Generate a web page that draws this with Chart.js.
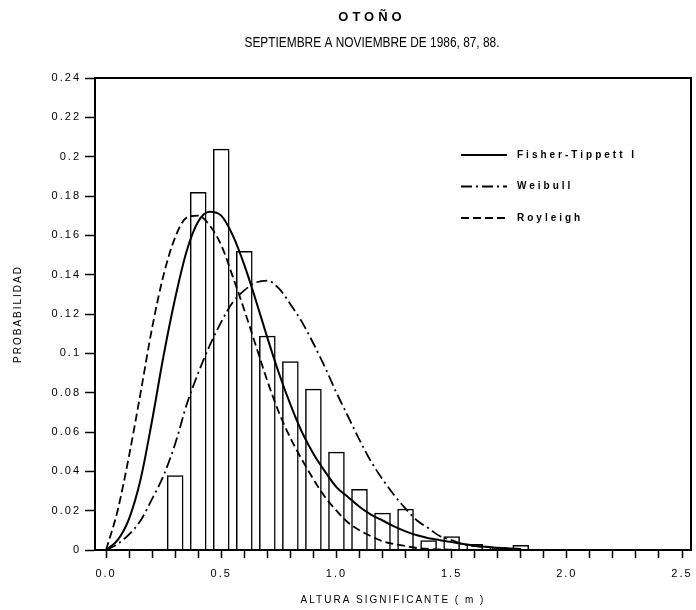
<!DOCTYPE html>
<html lang="es">
  <head>
    <meta charset="UTF-8" />
    <title>Otoño - Altura significante</title>
    <script src="https://cdn.jsdelivr.net/npm/chart.js@4.4.0/dist/chart.umd.min.js"></script>
    <style>
      html, body { margin: 0; padding: 0; background: #fff; }
      #wrap { width: 696px; height: 610px; }
    </style>
  </head>
  <body>
    <div id="wrap"><canvas id="otono" width="696" height="610"></canvas></div>

    <script>
      // Histograma observado: centro de clase (m) y probabilidad
      const clases = [0.3, 0.4, 0.5, 0.6, 0.7, 0.8, 0.9, 1.0, 1.1, 1.2, 1.3, 1.4, 1.5, 1.6, 1.7, 1.8]
      const probObservada = [0.038, 0.182, 0.204, 0.152, 0.109, 0.096, 0.082, 0.050, 0.031, 0.019, 0.021, 0.005, 0.007, 0.003, 0.0015, 0.0025]

      // Curvas ajustadas
      const xCurva = [0, 0.05, 0.1, 0.15, 0.2, 0.25, 0.3, 0.35, 0.4, 0.45, 0.5, 0.55, 0.6, 0.65, 0.7, 0.75, 0.8, 0.85, 0.9, 0.95,
        1.0, 1.05, 1.1, 1.15, 1.2, 1.25, 1.3, 1.35, 1.4, 1.45, 1.5, 1.55, 1.6, 1.65, 1.7, 1.75, 1.8]
      const fisherTippett = [0, 0.005, 0.016, 0.036, 0.066, 0.099, 0.128, 0.152, 0.167, 0.172, 0.170, 0.160, 0.145, 0.127, 0.108, 0.090, 0.074, 0.060, 0.049, 0.040,
        0.032, 0.027, 0.022, 0.018, 0.015, 0.012, 0.0095, 0.0075, 0.006, 0.005, 0.004, 0.003, 0.0022, 0.0016, 0.0012, 0.0008, 0.0005]
      const weibull = [0, 0.003, 0.008, 0.015, 0.026, 0.038, 0.054, 0.074, 0.090, 0.104, 0.116, 0.126, 0.132, 0.136, 0.137, 0.133, 0.125, 0.116, 0.105, 0.093,
        0.080, 0.068, 0.056, 0.045, 0.036, 0.028, 0.021, 0.015, 0.011, 0.007, 0.005, 0.003, 0.002, 0.0015, 0.001, 0.0007, 0.0005]
      const rayleigh = [0, 0.020, 0.048, 0.080, 0.113, 0.140, 0.159, 0.169, 0.170, 0.165, 0.155, 0.139, 0.122, 0.104, 0.086, 0.070, 0.057, 0.046, 0.036, 0.027,
        0.020, 0.014, 0.010, 0.007, 0.0045, 0.003, 0.002, 0.001, 0.0005, 0.0003, 0.0002, null, null, null, null, null, null]

      const xEtiquetas = ['0.0', '0.5', '1.0', '1.5', '2.0', '2.5']
      const etiquetasLeyenda = ['Fisher-Tippett I', 'Weibull', 'Royleigh']

      const FUENTE = '"Liberation Sans", Arial, sans-serif'

      function puntos(ys) {
        return xCurva.map((x, i) => ({ x: x, y: ys[i] }))
      }

      // marco superior/derecho, títulos y leyenda
      const decoracion = {
        id: 'decoracion',
        afterInit(chart) { chart.ctx.letterSpacing = '2px' },
        beforeUpdate(chart) { chart.ctx.letterSpacing = '2px' },
        afterDraw(chart) {
          const ctx = chart.ctx
          const a = chart.chartArea
          ctx.save()
          ctx.strokeStyle = '#000'
          ctx.lineWidth = 2
          ctx.setLineDash([])
          ctx.beginPath()
          ctx.moveTo(a.left, a.top)
          ctx.lineTo(a.right, a.top)
          ctx.lineTo(a.right, a.bottom)
          ctx.stroke()

          ctx.fillStyle = '#000'
          ctx.textAlign = 'center'
          ctx.textBaseline = 'middle'
          ctx.letterSpacing = '4px'
          ctx.font = 'bold 13px ' + FUENTE
          ctx.fillText('OTOÑO', 372, 17)

          // subtítulo en letra estrecha
          ctx.letterSpacing = '0px'
          const t = 'SEPTIEMBRE A NOVIEMBRE DE 1986, 87, 88.'
          ctx.font = '14px ' + FUENTE
          const w = ctx.measureText(t).width
          ctx.save()
          ctx.translate(372, 43)
          ctx.scale(255 / w, 1)
          ctx.fillText(t, 0, 0)
          ctx.restore()

          // leyenda
          ctx.textAlign = 'left'
          ctx.letterSpacing = '3px'
          ctx.font = 'bold 10px ' + FUENTE
          const lineas = chart.data.datasets.filter(d => d.type === 'line')
          lineas.forEach((d, i) => {
            const y = 155 + i * 31.5
            ctx.lineWidth = 2
            ctx.setLineDash(d.borderDash || [])
            ctx.beginPath()
            ctx.moveTo(461, y)
            ctx.lineTo(507, y)
            ctx.stroke()
            ctx.fillText(etiquetasLeyenda[i], 517, y)
          })
          ctx.restore()
        }
      }

      new Chart(document.getElementById('otono'), {
        type: 'bar',
        data: {
          datasets: [
            {
              type: 'line',
              label: etiquetasLeyenda[0],
              data: puntos(fisherTippett),
              borderColor: '#000',
              borderWidth: 2,
              pointRadius: 0,
              cubicInterpolationMode: 'monotone'
            },
            {
              type: 'line',
              label: etiquetasLeyenda[1],
              data: puntos(weibull),
              borderColor: '#000',
              borderWidth: 1.8,
              borderDash: [11, 4, 2, 4],
              pointRadius: 0,
              cubicInterpolationMode: 'monotone'
            },
            {
              type: 'line',
              label: etiquetasLeyenda[2],
              data: puntos(rayleigh),
              borderColor: '#000',
              borderWidth: 1.8,
              borderDash: [8, 4],
              pointRadius: 0,
              spanGaps: false,
              cubicInterpolationMode: 'monotone'
            },
            {
              type: 'bar',
              label: 'Observado',
              data: clases.map((x, i) => ({ x: x, y: probObservada[i] })),
              backgroundColor: 'rgba(0,0,0,0)',
              borderColor: '#000',
              borderWidth: 1.5,
              categoryPercentage: 1,
              barPercentage: 0.72
            }
          ]
        },
        options: {
          responsive: false,
          animation: false,
          devicePixelRatio: 1,
          layout: { padding: { top: 78, right: 5, left: 0, bottom: 0 } },
          plugins: {
            legend: { display: false },
            tooltip: { enabled: false }
          },
          scales: {
            x: {
              type: 'linear',
              offset: false,
              min: -0.048,
              max: 2.539,
              afterFit(s) {
                s.height = 60
                s.paddingLeft = 0
                s.paddingRight = 0
              },
              grid: { offset: false, drawOnChartArea: false, drawTicks: true, tickLength: 8, tickWidth: 1.5, tickColor: '#000' },
              border: { display: true, color: '#000', width: 2 },
              ticks: {
                stepSize: 0.1,
                includeBounds: false,
                autoSkip: false,
                maxRotation: 0,
                padding: 9,
                color: '#000',
                font: { family: FUENTE, size: 11 },
                callback(v) {
                  const k = Math.round(v * 2)
                  return Math.abs(v * 2 - k) < 1e-6 ? xEtiquetas[k] : ''
                }
              },
              title: {
                display: true,
                text: 'ALTURA SIGNIFICANTE ( m )',
                color: '#000',
                font: { family: FUENTE, size: 10 },
                padding: { top: 0, bottom: 4 }
              }
            },
            y: {
              min: 0,
              max: 0.24,
              afterFit(s) { s.width = 95 },
              grid: { drawOnChartArea: false, drawTicks: true, tickLength: 10, tickWidth: 1.5, tickColor: '#000' },
              border: { display: true, color: '#000', width: 2 },
              ticks: {
                stepSize: 0.02,
                padding: 4,
                color: '#000',
                font: { family: FUENTE, size: 11 },
                callback: v => String(+v.toFixed(2))
              },
              title: {
                display: true,
                text: 'PROBABILIDAD',
                color: '#000',
                font: { family: FUENTE, size: 10 },
                padding: { top: 12, bottom: 0 }
              }
            }
          }
        },
        plugins: [decoracion]
      })
    </script>
  </body>
</html>
